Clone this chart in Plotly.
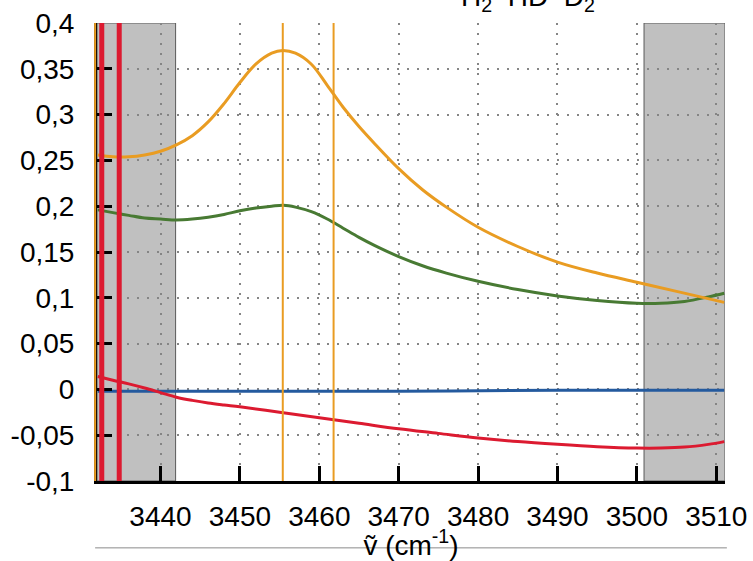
import plotly.graph_objects as go

# Spectral traces (wavenumber in cm^-1)
x_orange = [3432.1, 3434, 3436, 3438, 3440, 3442, 3444, 3446, 3448, 3450, 3452, 3454, 3455.4,
            3457, 3459, 3461, 3463, 3465, 3467, 3470, 3473, 3476, 3480, 3485, 3490, 3495, 3500,
            3505, 3511]
y_orange = [0.256, 0.254, 0.254, 0.256, 0.260, 0.267, 0.277, 0.292, 0.312, 0.335, 0.355, 0.367, 0.370,
            0.367, 0.355, 0.332, 0.308, 0.287, 0.268, 0.241, 0.218, 0.199, 0.177, 0.156, 0.139, 0.127,
            0.117, 0.107, 0.095]

x_green = [3432.1, 3434, 3436, 3438, 3440, 3442, 3444, 3446, 3448, 3450, 3452, 3454, 3455.5, 3457,
           3459, 3461, 3463, 3465, 3467, 3470, 3473, 3476, 3480, 3485, 3490, 3495, 3500, 3503, 3506,
           3509, 3511]
y_green = [0.196, 0.193, 0.190, 0.187, 0.186, 0.185, 0.186, 0.188, 0.191, 0.195, 0.198, 0.200, 0.201,
           0.199, 0.194, 0.186, 0.176, 0.166, 0.157, 0.145, 0.135, 0.127, 0.118, 0.109, 0.102, 0.097,
           0.094, 0.094, 0.096, 0.101, 0.105]

x_blue = [3432.1, 3450, 3470, 3490, 3511]
y_blue = [-0.002, -0.002, -0.002, -0.001, -0.001]

x_red = [3432.1, 3434, 3436, 3438, 3440, 3442, 3444, 3446, 3448, 3450, 3455, 3460, 3465, 3470,
         3475, 3480, 3485, 3490, 3495, 3500, 3503, 3506, 3509, 3511]
y_red = [0.014, 0.010, 0.006, 0.0015, -0.0035, -0.0085, -0.0120, -0.0148, -0.0170, -0.0190, -0.0250,
         -0.0310, -0.0370, -0.0430, -0.0480, -0.0530, -0.0570, -0.0600, -0.0625, -0.0640, -0.0640,
         -0.0630, -0.0600, -0.0570]

# Marker lines and excluded windows
red_marks = [3432.6, 3434.8]
orange_marks = [3455.4, 3461.8]
excluded = [(3432.0, 3441.9), (3500.9, 3511.1)]

x_range = [3432.0, 3511.1]
y_range = [-0.1, 0.4]

x_ticks = [3440, 3450, 3460, 3470, 3480, 3490, 3500, 3510]
x_ticktext = ["3440", "3450", "3460", "3470", "3480", "3490", "3500", "3510"]
y_ticks = [-0.1, -0.05, 0, 0.05, 0.1, 0.15, 0.2, 0.25, 0.3, 0.35, 0.4]
y_ticktext = ["-0,1", "-0,05", "0", "0,05", "0,1", "0,15", "0,2", "0,25", "0,3", "0,35", "0,4"]

ORANGE = "#e99c22"
GREEN = "#487a33"
BLUE = "#245a9e"
RED = "#dc1a30"
FONT = "Liberation Sans, Arial, sans-serif"

fig = go.Figure()

for xs, ys, col in [(x_blue, y_blue, BLUE), (x_red, y_red, RED),
                    (x_green, y_green, GREEN), (x_orange, y_orange, ORANGE)]:
    fig.add_trace(go.Scatter(x=xs, y=ys, mode="lines",
                             line=dict(color=col, width=3, shape="spline", smoothing=1.0),
                             showlegend=False, hoverinfo="skip"))

shapes = []
for x0, x1 in excluded:
    shapes.append(dict(type="rect", xref="x", yref="y", x0=x0, x1=x1, y0=y_range[0], y1=y_range[1],
                       fillcolor="#c0c0c0", line=dict(color="#5a5a5a", width=1), layer="below"))
# thin orange marker hugging the left edge of the panel
shapes.append(dict(type="line", xref="paper", yref="y", x0=-0.003, x1=-0.003,
                   y0=y_range[0], y1=y_range[1], line=dict(color=ORANGE, width=2)))
for xv in orange_marks:
    shapes.append(dict(type="line", xref="x", yref="y", x0=xv, x1=xv, y0=y_range[0], y1=y_range[1],
                       line=dict(color=ORANGE, width=2)))
for xv in red_marks:
    shapes.append(dict(type="line", xref="x", yref="y", x0=xv, x1=xv, y0=y_range[0], y1=y_range[1],
                       line=dict(color=RED, width=5)))
# frame edge of the panel underneath
shapes.append(dict(type="line", xref="paper", yref="paper", x0=-0.003, x1=1.003, y0=-0.146, y1=-0.146,
                   line=dict(color="#8a8a8a", width=1)))

fig.update_layout(
    width=753, height=561,
    margin=dict(l=97, r=28, t=23, b=80),
    paper_bgcolor="white", plot_bgcolor="white",
    font=dict(family=FONT, size=28, color="black"),
    shapes=shapes,
    showlegend=False,
)

fig.update_xaxes(
    range=x_range, tickvals=x_ticks, ticktext=x_ticktext, automargin=False,
    showline=True, linecolor="black", linewidth=3,
    ticks="inside", ticklen=15, tickwidth=3, tickcolor="black",
    showgrid=True, gridcolor="#858585", gridwidth=2, griddash="2px,8px",
    zeroline=False, ticklabelstandoff=8, ticklabeloverflow="allow",
    title=dict(text="ṽ (cm<sup>-1</sup>)", standoff=0, font=dict(size=28)),
)
fig.update_yaxes(
    range=y_range, tickvals=y_ticks, ticktext=y_ticktext, automargin=False,
    showline=True, linecolor="black", linewidth=3,
    ticks="inside", ticklen=15, tickwidth=3, tickcolor="black",
    showgrid=True, gridcolor="#858585", gridwidth=2, griddash="2px,8px",
    zeroline=False, ticklabelstandoff=14, ticklabeloverflow="allow",
)

# partially visible heading above the panel
fig.add_annotation(text="H<sub>2</sub>  HD  D<sub>2</sub>", xref="paper", yref="paper",
                   x=0.686, y=1.011, xanchor="center", yanchor="bottom", showarrow=False,
                   font=dict(size=28, family=FONT))

fig.write_html("out.html")
